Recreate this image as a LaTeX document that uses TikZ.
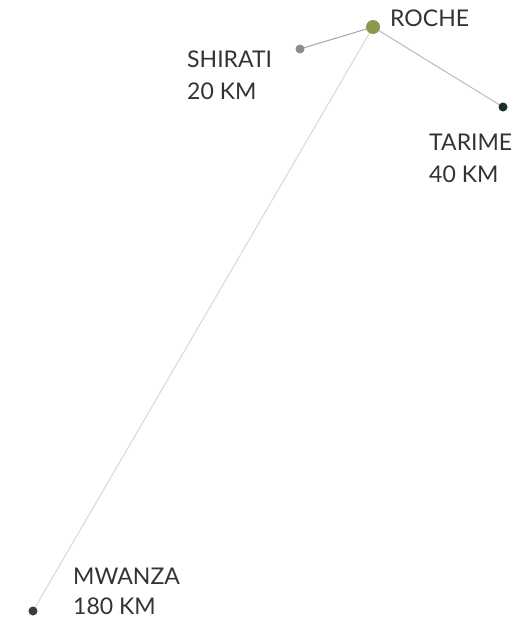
\documentclass[tikz,border=0pt]{standalone}
\usepackage{fontspec}
\setmainfont{Lato}
\begin{document}
\begin{tikzpicture}[x=1pt,y=-1pt,
  lbl/.style={anchor=base west,inner sep=0pt,text=black!80,font=\fontsize{23}{31}\selectfont},
  city/.style={circle,inner sep=0pt,minimum size=#1},
  road/.style={line width=1pt}]
\useasboundingbox (0,0) rectangle (529,621);
\definecolor{rochec}{HTML}{8A9A4C}
\definecolor{shiratic}{HTML}{8C8C90}
\definecolor{tarimec}{HTML}{1E2E2C}
\definecolor{mwanzac}{HTML}{3C3C40}
\definecolor{roadA}{HTML}{A4A2B4}
\definecolor{roadB}{HTML}{B8BCB0}
\definecolor{roadC}{HTML}{D8D8DC}
\draw[road,draw=roadA] (373,27) coordinate (rc) -- (300,49) coordinate (sc);
\draw[road,draw=roadB] (rc) -- (503,107) coordinate (tc);
\draw[road,draw=roadC] (rc) -- (33,611) coordinate (mc);
\node[city=14pt,fill=rochec] (roche) at (rc) {};
\node[city=9pt,fill=shiratic] (shirati) at (sc) {};
\node[city=9pt,fill=tarimec] (tarime) at (tc) {};
\node[city=9pt,fill=mwanzac] (mwanza) at (mc) {};
\node[lbl] (rochelbl) at (390,26) {ROCHE};
\node[lbl] (shiratilbl) at (187,67) {SHIRATI};
\node[lbl] (shiratikm) at (187,99) {20 KM};
\node[lbl] (tarimelbl) at (429,150) {TARIME};
\node[lbl] (tarimekm) at (429,182) {40 KM};
\node[lbl] (mwanzalbl) at (73,584) {MWANZA};
\node[lbl] (mwanzakm) at (73,614) {180 KM};
\end{tikzpicture}
\end{document}
